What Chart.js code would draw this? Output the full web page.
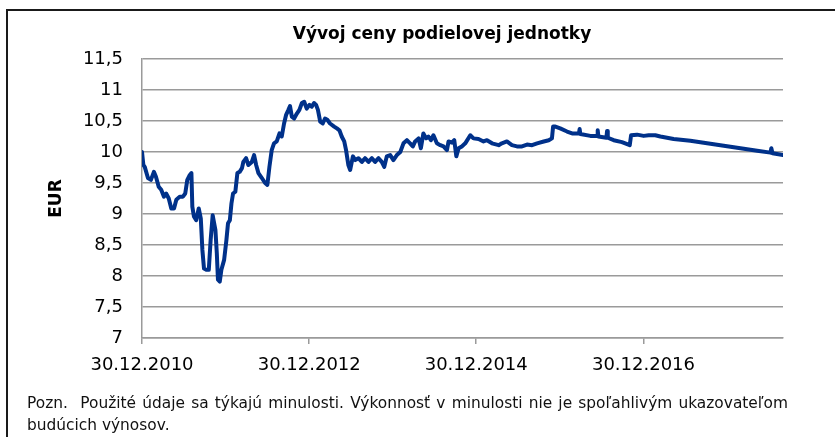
<!DOCTYPE html>
<html><head><meta charset="utf-8">
<script src="https://cdn.jsdelivr.net/npm/chart.js@4.4.1/dist/chart.umd.min.js"></script>
<style>
html,body{margin:0;padding:0;background:#fff;width:835px;height:437px;overflow:hidden;position:relative;}
#c{position:absolute;left:0;top:0;}
#frame{position:absolute;left:6px;top:9px;width:900px;height:500px;border:2px solid #1a1a1a;box-sizing:border-box;}
.note{position:absolute;left:27px;width:761px;font-family:"DejaVu Sans",sans-serif;font-size:15.4px;color:#111;white-space:nowrap;}
#n1{top:394px;text-align:justify;text-align-last:justify;}
#n2{top:415.5px;}
</style></head>
<body>
<canvas id="c" width="884" height="437"></canvas>
<div id="frame"></div>
<div class="note" id="n1">Pozn.&nbsp; Použité údaje sa týkajú minulosti. Výkonnosť v minulosti nie je spoľahlivým ukazovateľom</div>
<div class="note" id="n2">budúcich výnosov.</div>
<script>
const chartTitle = 'Vývoj ceny podielovej jednotky';
const yAxisTitle = 'EUR';
const xTickDates = ['2010-12-30','2012-12-30','2014-12-30','2016-12-30'];
const yMin = 7, yMax = 11.5, yStep = 0.5;

const dates = [
'2010-12-30','2011-01-05','2011-01-11','2011-01-25','2011-02-07','2011-02-20','2011-03-01','2011-03-13','2011-03-24','2011-04-05',
'2011-04-15','2011-04-26','2011-05-07','2011-05-19','2011-05-29','2011-06-13','2011-06-27','2011-07-07','2011-07-16','2011-07-27',
'2011-08-03','2011-08-07','2011-08-14','2011-08-24','2011-09-04','2011-09-13','2011-09-20','2011-09-27','2011-10-07','2011-10-18',
'2011-10-26','2011-11-04','2011-11-16','2011-11-22','2011-11-27','2011-12-05','2011-12-12','2011-12-24','2012-01-03','2012-01-10',
'2012-01-18','2012-01-25','2012-02-01','2012-02-11','2012-02-20','2012-03-01','2012-03-11','2012-03-17','2012-03-29','2012-04-08',
'2012-04-23','2012-05-03','2012-05-12','2012-05-22','2012-06-06','2012-06-20','2012-06-30','2012-07-09','2012-07-19','2012-07-29',
'2012-08-10','2012-08-22','2012-09-01','2012-09-11','2012-09-20','2012-09-30','2012-10-07','2012-10-15','2012-10-25','2012-11-06',
'2012-11-17','2012-11-28','2012-12-08','2012-12-19','2012-12-31','2013-01-10','2013-01-20','2013-01-29','2013-02-06','2013-02-16',
'2013-02-27','2013-03-09','2013-03-19','2013-03-31','2013-04-18','2013-04-30','2013-05-11','2013-05-21','2013-06-01','2013-06-09',
'2013-06-19','2013-06-27','2013-07-09','2013-07-19','2013-08-02','2013-08-17','2013-08-31','2013-09-15','2013-09-30','2013-10-14',
'2013-10-29','2013-11-12','2013-11-23','2013-12-04','2013-12-19','2014-01-02','2014-01-17','2014-02-01','2014-02-15','2014-03-02',
'2014-03-16','2014-03-28','2014-04-07','2014-04-22','2014-05-02','2014-05-13','2014-05-25','2014-06-04','2014-06-15','2014-06-26',
'2014-07-11','2014-07-26','2014-08-09','2014-08-24','2014-08-31','2014-09-15','2014-09-25','2014-10-04','2014-10-14','2014-10-28',
'2014-11-12','2014-12-04','2014-12-18','2015-01-09','2015-01-31','2015-02-15','2015-03-09','2015-04-07','2015-04-21','2015-05-13',
'2015-06-04','2015-06-26','2015-07-18','2015-08-09','2015-08-31','2015-09-22','2015-10-21','2015-11-12','2015-11-26','2015-12-01',
'2015-12-11','2016-01-01','2016-01-31','2016-02-22','2016-03-15','2016-03-23','2016-03-26','2016-03-29','2016-05-12','2016-06-10',
'2016-06-13','2016-06-16','2016-07-21','2016-07-24','2016-07-27','2016-08-22','2016-09-27','2016-10-31','2016-11-06','2016-12-02',
'2016-12-31','2017-01-22','2017-02-20','2017-03-14','2017-05-11','2017-07-23','2017-10-04','2017-12-16','2018-02-27','2018-05-11',
'2018-07-08','2018-07-12','2018-07-17','2018-09-01'
];

const prices = [
10.00,9.79,9.76,9.58,9.55,9.68,9.60,9.44,9.39,9.28,
9.33,9.25,9.09,9.09,9.23,9.28,9.28,9.33,9.55,9.63,
9.66,9.12,8.96,8.90,9.09,8.93,8.42,8.12,8.10,8.10,
8.58,8.98,8.74,8.37,7.94,7.91,8.10,8.26,8.58,8.85,
8.90,9.17,9.33,9.36,9.66,9.68,9.74,9.84,9.90,9.79,
9.84,9.95,9.79,9.66,9.58,9.50,9.47,9.76,10.03,10.14,
10.17,10.30,10.25,10.46,10.60,10.68,10.74,10.57,10.54,10.62,
10.68,10.79,10.81,10.70,10.76,10.73,10.79,10.76,10.68,10.49,
10.46,10.54,10.52,10.46,10.41,10.38,10.35,10.25,10.17,10.03,
9.79,9.71,9.93,9.87,9.90,9.84,9.90,9.84,9.90,9.84,
9.90,9.84,9.76,9.93,9.95,9.87,9.95,10.00,10.14,10.19,
10.14,10.09,10.17,10.22,10.06,10.30,10.22,10.25,10.19,10.27,
10.14,10.11,10.09,10.03,10.17,10.15,10.19,9.93,10.06,10.09,
10.14,10.27,10.22,10.21,10.17,10.19,10.14,10.11,10.14,10.17,
10.11,10.09,10.09,10.12,10.11,10.14,10.17,10.19,10.22,10.41,
10.41,10.38,10.33,10.30,10.30,10.30,10.37,10.29,10.26,10.26,
10.35,10.25,10.23,10.34,10.23,10.19,10.16,10.11,10.27,10.28,
10.26,10.27,10.27,10.25,10.21,10.18,10.14,10.10,10.06,10.02,
9.99,10.06,9.98,9.95
];

const toMs = s => Date.parse(s + 'T00:00:00Z');
const pad2 = n => String(n).padStart(2, '0');
const fmtDate = ms => { const d = new Date(ms); return pad2(d.getUTCDate()) + '.' + pad2(d.getUTCMonth() + 1) + '.' + d.getUTCFullYear(); };

const gridGray = '#9a9a9a';

new Chart(document.getElementById('c'), {
  type: 'line',
  data: {
    datasets: [{
      data: dates.map((d, i) => ({ x: toMs(d), y: prices[i] })),
      borderColor: '#00318a',
      borderWidth: 4,
      pointRadius: 0,
      tension: 0,
      borderJoinStyle: 'round',
      borderCapStyle: 'round',
      fill: false
    }]
  },
  options: {
    responsive: false,
    animation: false,
    devicePixelRatio: 1,
    layout: { padding: { left: 0, right: 0, top: 0, bottom: 59 } },
    plugins: {
      legend: { display: false },
      tooltip: { enabled: false },
      title: {
        display: true, text: chartTitle, color: '#000',
        font: { family: 'DejaVu Sans', size: 17, weight: 'bold' },
        padding: { top: 24, bottom: 14.6 }
      }
    },
    scales: {
      x: {
        type: 'linear',
        min: toMs(dates[0]),
        max: toMs(dates[dates.length - 1]),
        afterBuildTicks: s => { s.ticks = xTickDates.map(d => ({ value: toMs(d) })); },
        afterFit: s => { s.height = 40; },
        ticks: {
          callback: v => fmtDate(v),
          font: { family: 'DejaVu Sans', size: 18 },
          color: '#000', padding: 11, maxRotation: 0, autoSkip: false
        },
        grid: { drawOnChartArea: false, drawTicks: true, tickLength: 6, color: gridGray, lineWidth: 1.5 },
        border: { display: true, color: gridGray, width: 1.5 }
      },
      y: {
        position: 'left',
        min: yMin, max: yMax,
        afterFit: s => { s.width = 142; },
        ticks: {
          stepSize: yStep,
          callback: v => String(v).replace('.', ','),
          font: { family: 'DejaVu Sans', size: 18 },
          color: '#000', padding: 19
        },
        grid: { color: gridGray, lineWidth: 1.5, drawTicks: false },
        border: { display: true, color: gridGray, width: 1.5 },
        title: {
          display: true, text: yAxisTitle, color: '#000',
          font: { family: 'DejaVu Sans', size: 17, weight: 'bold' },
          padding: { top: 46.8, bottom: 0 }
        }
      },
      spacer: {
        type: 'linear',
        position: 'right',
        afterFit: s => { s.width = 101; },
        ticks: { display: false },
        grid: { display: false },
        border: { display: false }
      }
    }
  }
});
</script>
</body></html>
